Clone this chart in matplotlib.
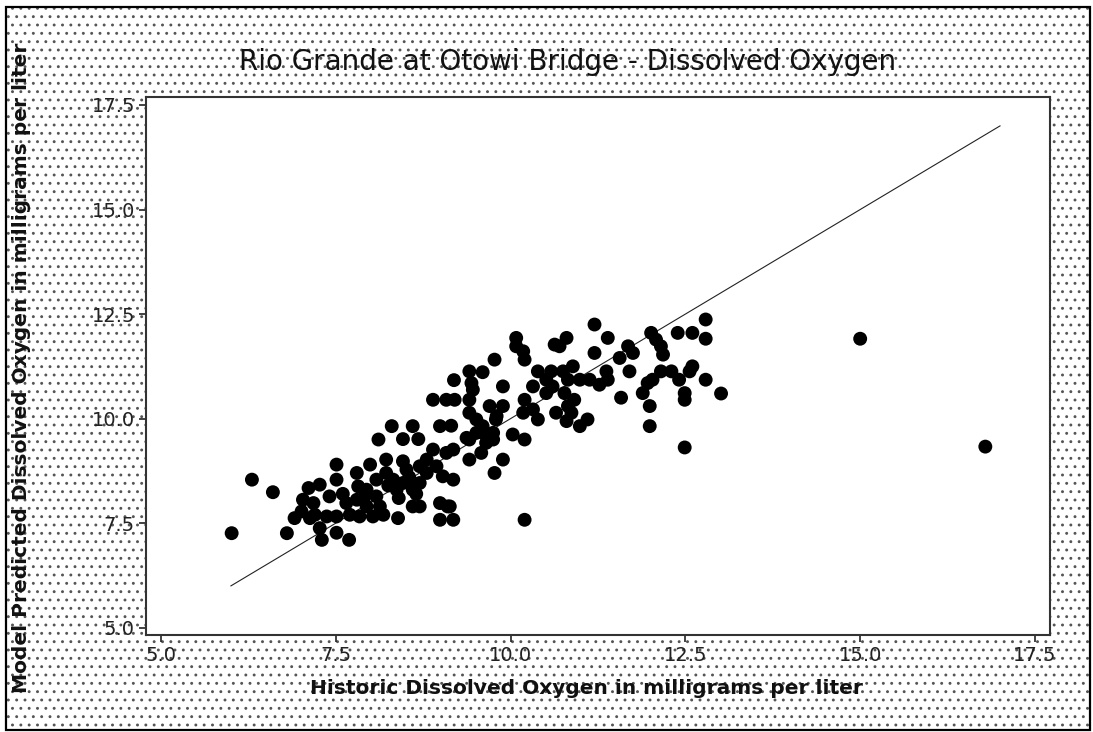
import matplotlib
matplotlib.use("Agg")
import matplotlib.pyplot as plt
from matplotlib.patches import Rectangle

title = "Rio Grande at Otowi Bridge - Dissolved Oxygen"
x_label = "Historic Dissolved Oxygen in milligrams per liter"
y_label = "Model Predicted Dissolved Oxygen in milligrams per liter"
ticks = [5.0, 7.5, 10.0, 12.5, 15.0, 17.5]
tick_labels = ["5.0", "7.5", "10.0", "12.5", "15.0", "17.5"]
ref_line = [6.0, 17.0]

historic = [
    6.01, 6.30, 6.60, 6.80, 6.91, 7.01, 7.03, 7.11, 7.13, 7.18, 7.27, 7.27, 7.30, 7.37,
    7.41, 7.51, 7.51, 7.51, 7.51, 7.65, 7.69, 7.70, 7.80, 7.80, 7.82, 7.84, 7.94, 7.94,
    7.99, 8.03, 8.08, 8.08, 8.11, 8.13, 8.18, 8.22, 8.22, 8.30, 8.32, 8.37, 8.39, 8.46,
    8.46, 8.46, 8.51, 8.60, 8.60, 8.60, 8.68, 8.70, 8.70, 8.70, 8.80, 8.80, 8.89, 8.89,
    8.94, 8.99, 8.99, 8.99, 9.03, 9.08, 9.08, 9.10, 9.13, 9.15, 9.18, 9.18, 9.18, 9.19,
    9.20, 9.37, 9.41, 9.41, 9.41, 9.41, 9.41, 9.44, 9.46, 9.51, 9.51, 9.58, 9.60, 9.60,
    9.60, 9.65, 9.70, 9.75, 9.75, 9.77, 9.77, 9.79, 9.80, 9.89, 9.89, 9.89, 10.03, 10.08,
    10.08, 10.18, 10.18, 10.20, 10.20, 10.20, 10.20, 10.32, 10.32, 10.39, 10.39, 10.51,
    10.51, 10.58, 10.60, 10.63, 10.65, 10.70, 10.75, 10.77, 10.80, 10.80, 10.82, 10.82,
    10.87, 10.89, 10.91, 10.99, 10.99, 11.10, 11.13, 11.20, 11.20, 11.27, 11.37, 11.39,
    11.39, 11.56, 11.58, 11.68, 11.70, 11.75, 11.89, 11.96, 11.99, 11.99, 12.01, 12.03,
    12.08, 12.15, 12.15, 12.18, 12.30, 12.39, 12.41, 12.49, 12.49, 12.49, 12.56, 12.60,
    12.60, 12.79, 12.79, 12.79, 13.01, 15.00, 16.79,
    8.25, 8.55, 8.65, 8.40, 7.60, 7.90, 7.20,
]
predicted = [
    7.26, 8.54, 8.24, 7.26, 7.62, 7.78, 8.06, 8.34, 7.62, 7.98, 8.42, 7.38, 7.10, 7.66,
    8.14, 8.90, 8.54, 7.66, 7.27, 7.98, 7.10, 7.70, 8.70, 8.06, 8.38, 7.66, 7.90, 8.30,
    8.90, 7.66, 8.14, 8.54, 9.50, 7.90, 7.70, 8.70, 9.02, 9.82, 8.54, 8.30, 7.62, 8.98,
    8.46, 9.51, 8.78, 8.30, 7.90, 9.82, 9.51, 7.90, 8.46, 8.86, 8.70, 9.02, 9.26, 10.45,
    8.86, 7.98, 7.58, 9.82, 8.62, 9.18, 10.45, 7.90, 7.90, 9.83, 7.58, 8.54, 9.26, 10.92,
    10.45, 9.54, 9.02, 9.50, 10.14, 10.45, 11.13, 10.85, 10.69, 9.98, 9.66, 9.18, 11.11,
    9.66, 9.82, 9.42, 10.30, 9.50, 9.66, 11.41, 8.70, 9.98, 10.06, 10.77, 10.30, 9.02,
    9.62, 11.93, 11.73, 11.61, 10.14, 11.41, 10.45, 9.50, 7.58, 10.77, 10.22, 11.13, 9.98,
    10.93, 10.61, 11.13, 10.77, 11.77, 10.14, 11.73, 11.13, 10.61, 11.93, 9.94, 10.93,
    10.30, 10.14, 11.25, 10.45, 10.93, 9.82, 9.98, 10.93, 12.25, 11.57, 10.81, 11.13,
    10.93, 11.93, 11.45, 10.50, 11.73, 11.13, 11.57, 10.61, 10.85, 10.30, 9.82, 12.05,
    10.93, 11.89, 11.73, 11.13, 11.53, 11.13, 12.05, 10.93, 10.61, 10.45, 9.31, 11.13,
    11.25, 12.05, 12.37, 11.91, 10.93, 10.60, 11.91, 9.33,
    8.40, 8.60, 8.20, 8.10, 8.20, 8.10, 7.70,
]

plt.rcParams["font.family"] = ["DejaVu Sans"]
plt.rcParams["hatch.linewidth"] = 0.9

W, H = 1093, 732
fig = plt.figure(figsize=(W / 100, H / 100), dpi=100)
fig.patch.set_facecolor("white")

# dotted background + outer border
bg = Rectangle((6 / W, 2 / H), (W - 9) / W, (H - 9) / H, transform=fig.transFigure,
               facecolor="white", edgecolor="#555555", hatch="..", linewidth=0,
               zorder=-10)
fig.add_artist(bg)
border = Rectangle((6 / W, 2 / H), (W - 9) / W, (H - 9) / H, transform=fig.transFigure,
                   facecolor="none", edgecolor="black", linewidth=1.6, zorder=-9)
fig.add_artist(border)

ax = fig.add_axes([146 / W, 1 - 635 / H, 904 / W, 537.7 / H])
ax.set_facecolor("white")
ax.set_zorder(1)

ax.plot(ref_line, ref_line, color="#222222", linewidth=0.8, zorder=2)
ax.scatter(historic, predicted, s=100, color="black", edgecolors="none", zorder=3)

ax.set_xlim(4.785, 17.715)
ax.set_ylim(4.825, 17.684)
ax.set_xticks(ticks)
ax.set_xticklabels(tick_labels)
ax.set_yticks(ticks)
ax.set_yticklabels(tick_labels)
ax.tick_params(direction="out", length=5, width=1.2, color="#222222",
               labelsize=14, labelcolor="#222222", pad=3)
for sp in ax.spines.values():
    sp.set_linewidth(1.5)
    sp.set_color("#333333")

fig.text(568 / W, 1 - 62 / H, title, ha="center", va="center", fontsize=20,
         color="#111111")
fig.text(586 / W, 1 - 688 / H, x_label, ha="center", va="center", fontsize=14.5,
         fontweight="bold", color="#111111")
fig.text(22 / W, 1 - 368 / H, y_label, ha="center", va="center", fontsize=14.5,
         fontweight="bold", color="#111111", rotation=90)

fig.savefig("out.png", dpi=100)
